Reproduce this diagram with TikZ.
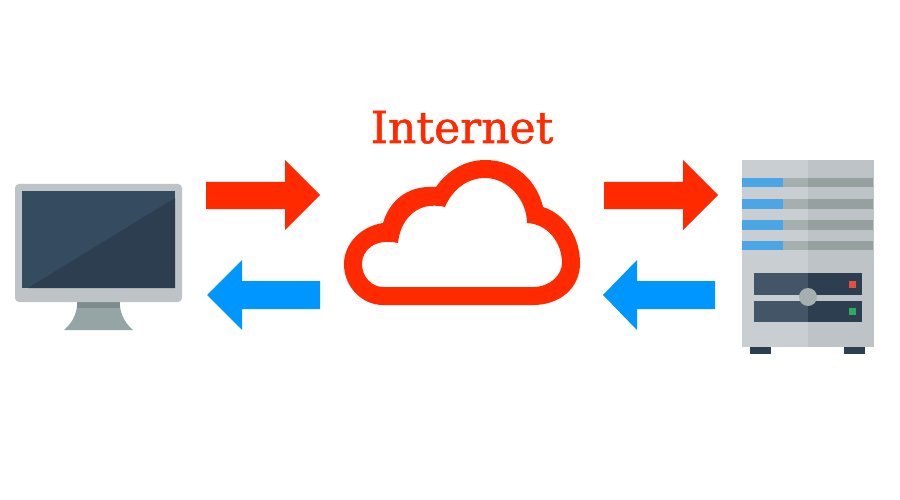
\documentclass[tikz,border=0pt]{standalone}
\usepackage{fontspec}
\usepackage{tikz}
\newfontfamily\labelfont[FakeBold=1.2]{DejaVu Serif}
\definecolor{netred}{HTML}{FF2A00}
\definecolor{netblue}{HTML}{0096FF}
\definecolor{caselight}{HTML}{C9CED2}
\definecolor{casedark}{HTML}{BDC3C7}
\definecolor{slatelight}{HTML}{354B60}
\definecolor{slatedark}{HTML}{2C3E50}
\definecolor{panellight}{HTML}{435566}
\definecolor{standlight}{HTML}{95A5A6}
\definecolor{standdark}{HTML}{7F8C8D}
\definecolor{baylight}{HTML}{A5AFAD}
\definecolor{baydark}{HTML}{95A09F}
\definecolor{baryblue}{HTML}{4AA6E4}
\definecolor{ledred}{HTML}{E74C3C}
\definecolor{ledgreen}{HTML}{27AE60}

\begin{document}
\begin{tikzpicture}[
  x=1pt, y=-1pt,
  outbound/.style={fill=netred},
  inbound/.style={fill=netblue},
  bay/.style={fill=baydark}
]
\useasboundingbox (0,0) rectangle (900,500);
\fill[white] (0,0) rectangle (900,500);

\node[anchor=base, text=netred, font=\labelfont\fontsize{44}{44}\selectfont, inner sep=0pt] (internetlabel) at (462,143) {Internet};

\fill[netred, even odd rule]
  (383,305) -- (533,305) .. controls (559,305) and (580,289) .. (580,263)
  .. controls (580,237) and (565,214) .. (543,207)
  .. controls (537,182) and (517,160) .. (485,160)
  .. controls (465,160) and (447,171) .. (436,187)
  .. controls (405,185) and (389,203) .. (383,223)
  .. controls (362,226) and (344,243) .. (344,264)
  .. controls (344,287) and (362,305) .. (383,305) -- cycle
  (383,287) -- (533,287) .. controls (550,287) and (562,275) .. (562,263)
  .. controls (562,243) and (548,224) .. (527,223)
  .. controls (527,200) and (508,178) .. (485,178)
  .. controls (467,178) and (452,190) .. (445,207)
  .. controls (415,200) and (400,222) .. (398,243)
  .. controls (375,238) and (362,250) .. (362,264)
  .. controls (362,277) and (372,287) .. (383,287) -- cycle;

\foreach \xstart in {206,604} {
  \fill[outbound] (\xstart,182) -- ++(79,0) -- ++(0,-22) -- ++(35,35) -- ++(-35,35) -- ++(0,-21) -- ++(-79,0) -- cycle;
}
\fill[inbound] (207,295) -- (242,260) -- (242,281) -- (320,281) -- (320,309) -- (242,309) -- (242,330) -- cycle;
\fill[inbound] (603,295) -- (637,260) -- (637,281) -- (715,281) -- (715,309) -- (637,309) -- (637,330) -- cycle;

\fill[standlight] (77,306) .. controls (76,316) and (71,324) .. (64,330) -- (133,330) .. controls (126,324) and (121,316) .. (120,306) -- cycle;
\fill[standdark] (77,302) rectangle (120,308);
\fill[casedark, rounded corners=4pt] (15,184) rectangle (182,302);
\fill[slatelight] (22,191) rectangle (175,288);
\fill[slatedark] (175,198) -- (175,288) -- (28,288) -- cycle;

\fill[caselight] (742,160) rectangle (808,347);
\fill[casedark] (808,160) rectangle (874,347);
\foreach \ytop/\ybot in {178/187, 199/209, 220/230, 241/250} {
  \fill[baryblue] (742,\ytop) rectangle (783,\ybot);
  \fill[baylight] (783,\ytop) rectangle (808,\ybot);
  \fill[bay] (808,\ytop) rectangle (873,\ybot);
}
\foreach \ytop/\ybot in {273/295, 301/322} {
  \fill[panellight] (754,\ytop) rectangle (808,\ybot);
  \fill[slatedark] (808,\ytop) rectangle (862,\ybot);
}
\fill[caselight] (754,295) rectangle (808,301);
\fill[casedark] (808,295) rectangle (862,301);
\fill[baylight] (808,297) circle (9);
\fill[ledred] (849,281) rectangle (856,288);
\fill[ledgreen] (849,308) rectangle (856,315);
\foreach \xleft in {750,844} {
  \fill[slatedark] (\xleft,347) rectangle ++(21,7);
}
\end{tikzpicture}
\end{document}
